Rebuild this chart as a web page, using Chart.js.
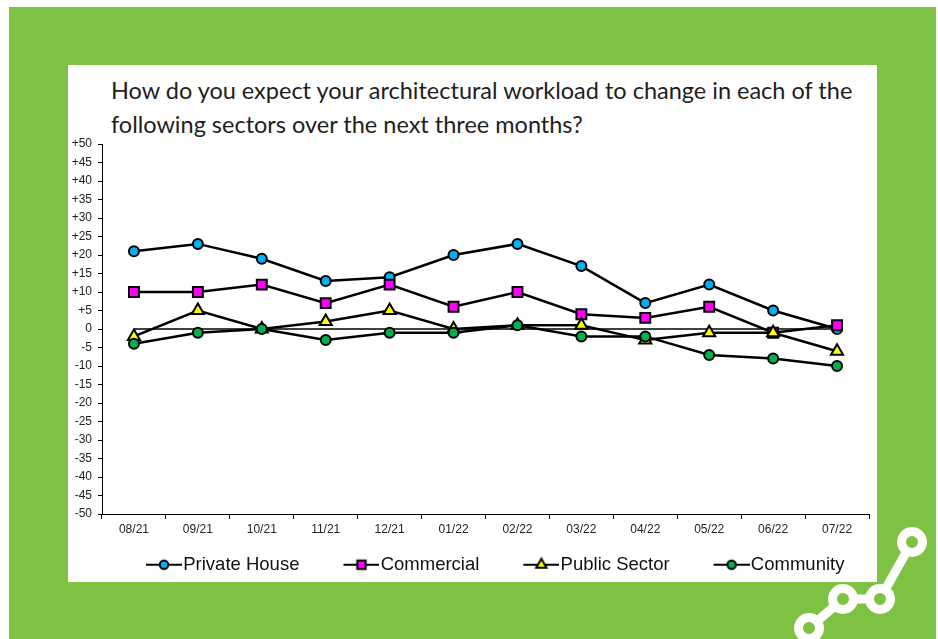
<!DOCTYPE html>
<html>
<head>
<meta charset="utf-8">
<title>Architectural workload by sector</title>
<script src="https://cdn.jsdelivr.net/npm/chart.js@4.4.1/dist/chart.umd.min.js"></script>
<style>
  html, body { margin: 0; padding: 0; background: #fff; }
  body { width: 938px; height: 639px; position: relative; overflow: hidden; }
  #frame { position: absolute; left: 9px; top: 7px; width: 927px; height: 632px; background: #7dc242; }
  #panel { position: absolute; left: 68px; top: 65px; width: 809px; height: 517px; background: #fff; }
  #deco { position: absolute; left: 0; top: 0; }
  #title { position: absolute; left: 111px; top: 73px; font: 23.5px Lato, sans-serif; line-height: 34px; color: #1e1e1e; white-space: nowrap; }
  #chart { position: absolute; left: 68px; top: 66px; }
</style>
</head>
<body>
<div id="frame"></div>
<div id="panel"></div>
<svg id="deco" width="938" height="639">
  <g stroke="#fff" stroke-width="9" fill="#7dc242">
    <polyline points="809,628 843,599 880,599 912,542" fill="none"/>
    <circle cx="809" cy="628" r="10.5"/>
    <circle cx="843" cy="599" r="10.5"/>
    <circle cx="880" cy="599" r="10.5"/>
    <circle cx="912" cy="542" r="10.5"/>
  </g>
</svg>
<div id="title">How do you expect your architectural workload to change in each of the<br>following sectors over the next three months?</div>
<canvas id="chart" width="810" height="518"></canvas>
<script>
// survey months
const months = ['08/21', '09/21', '10/21', '11/21', '12/21', '01/22', '02/22', '03/22', '04/22', '05/22', '06/22', '07/22'];

// balance figures per sector
const privateHouse = [21, 23, 19, 13, 14, 20, 23, 17, 7, 12, 5, 0];
const commercial   = [10, 10, 12, 7, 12, 6, 10, 4, 3, 6, -1, 1];
const publicSector = [-2, 5, 0, 2, 5, 0, 1, 1, -3, -1, -1, -6];
const community    = [-4, -1, 0, -3, -1, -1, 1, -2, -2, -7, -8, -10];
const zeroLine     = [0, 0, 0, 0, 0, 0, 0, 0, 0, 0, 0, 0];

// y axis range
const yMin = -50;
const yMax = 50;
const yStep = 5;

const tickFont = "'Liberation Sans', Arial, sans-serif";

// legend geometry: the glyph sits to the right of the item start,
// text follows right after the glyph
const legendPad = 3;
const glyphOffset = 41;
const glyphLen = 36;
const legendFontSize = 18.5;
const legendBox = Math.round(glyphOffset + glyphLen + 1.6 - legendFontSize / 2);
const glyphCanvasW = 2 * (glyphOffset + glyphLen) - legendBox;

// Excel-style legend glyph: short line with the marker in the middle
function legendIcon(style, fill, radius) {
  const c = document.createElement('canvas');
  c.width = glyphCanvasW;
  c.height = 18;
  const g = c.getContext('2d');
  const x0 = glyphCanvasW - glyphLen;
  g.strokeStyle = '#000';
  g.lineWidth = 2;
  g.beginPath();
  g.moveTo(x0, 9);
  g.lineTo(glyphCanvasW, 9);
  g.stroke();
  g.fillStyle = fill;
  Chart.helpers.drawPoint(g, { pointStyle: style, radius: radius, borderWidth: 2, rotation: 0 }, x0 + glyphLen / 2, 9);
  return c;
}

function series(label, data, style, fill, radius, order) {
  return {
    label: label,
    data: data,
    borderColor: '#000',
    borderWidth: 2.5,
    pointStyle: style,
    pointRadius: radius,
    pointBackgroundColor: fill,
    pointBorderColor: '#000',
    pointBorderWidth: 2,
    tension: 0,
    order: order,
    icon: legendIcon(style, fill, radius * 0.85)
  };
}

const ctx = document.getElementById('chart').getContext('2d');

const chart = new Chart(ctx, {
  type: 'line',
  data: {
    labels: months,
    datasets: [
      series('Private House', privateHouse, 'circle', '#00b0f0', 5, 4),
      series('Commercial', commercial, 'rect', '#ff00ff', 7, 3),
      series('Public Sector', publicSector, 'triangle', '#ffff00', 7, 2),
      series('Community', community, 'circle', '#00b050', 5, 1),
      {
        label: '',
        data: zeroLine,
        borderColor: '#000',
        borderWidth: 1.5,
        pointRadius: 0,
        order: 5
      }
    ]
  },
  options: {
    responsive: false,
    animation: false,
    layout: { padding: { top: 78, right: 1, bottom: 0, left: 0 } },
    plugins: {
      tooltip: { enabled: false },
      legend: {
        position: 'bottom',
        align: 'start',
        fullSize: false,
        labels: {
          usePointStyle: true,
          pointStyleWidth: legendBox,
          boxHeight: legendFontSize,
          padding: legendPad,
          color: '#111',
          font: { family: tickFont, size: legendFontSize },
          generateLabels: function(chart) {
            return chart.data.datasets
              .map((ds, i) => ({ ds, i }))
              .filter(o => o.ds.label)
              .map(({ ds, i }) => ({
                text: ds.label,
                pointStyle: ds.icon,
                datasetIndex: i,
                hidden: !chart.isDatasetVisible(i),
                lineWidth: 0,
                fontColor: '#111'
              }));
          }
        }
      }
    },
    scales: {
      x: {
        offset: true,
        grid: { display: true, drawOnChartArea: false, offset: true, tickLength: 5, color: '#000' },
        border: { display: true, color: '#000', width: 1 },
        ticks: { color: '#222', font: { family: tickFont, size: 12 }, padding: 3, maxRotation: 0, autoSkip: false },
        afterFit: function(axis) { axis.height = 38.5; }
      },
      y: {
        min: yMin,
        max: yMax,
        grid: { drawOnChartArea: false, tickLength: 4, color: '#000' },
        border: { display: true, color: '#000', width: 1 },
        ticks: {
          stepSize: yStep,
          autoSkip: false,
          padding: 6,
          color: '#222',
          font: { family: tickFont, size: 12 },
          callback: v => (v > 0 ? '+' + v : String(v))
        },
        afterFit: function(axis) { axis.width = 34; }
      }
    }
  }
});
</script>
</body>
</html>
